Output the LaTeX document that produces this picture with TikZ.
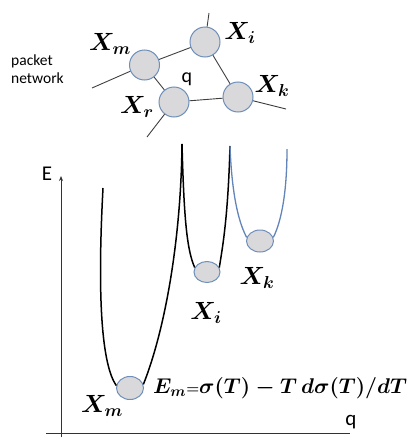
\documentclass[tikz,border=0pt]{standalone}
\usepackage{fontspec}
\newfontfamily\labelfont{Carlito}
\usetikzlibrary{arrows.meta,shapes.geometric}
\definecolor{ballfill}{HTML}{D9D9DB}
\definecolor{balledge}{HTML}{6F8FBA}
\definecolor{wellblue}{HTML}{6384B8}
\tikzset{
  ball/.style={circle, draw=balledge, fill=ballfill, line width=1pt, minimum size=30pt, inner sep=0pt},
  ovalball/.style={ellipse, draw=balledge, fill=ballfill, line width=1pt, inner sep=0pt},
  link/.style={draw=black!75, line width=0.9pt},
  well/.style={draw=black, line width=1.5pt},
  bluewell/.style={draw=wellblue, line width=1.3pt},
  axis/.style={draw=black!80, line width=0.9pt},
  xlab/.style={font=\fontsize{25}{28}\selectfont\boldmath, inner sep=0pt},
  sflab/.style={font=\labelfont\fontsize{21}{24}\selectfont, inner sep=0pt},
}
\begin{document}
\begin{tikzpicture}[x=1pt,y=-1pt]
\useasboundingbox (0,0) rectangle (411,442);
% network
\node[ball] (nm) at (144.5,65) {};
\node[ball] (ni) at (205,42) {};
\node[ball] (nr) at (174,102) {};
\node[ball] (nk) at (238,97) {};
\coordinate (ml) at (92,88);
\coordinate (iu) at (209,13);
\coordinate (rd) at (147,137);
\coordinate (kr) at (286,109);
\draw[link] (ml) -- (nm);
\draw[link] (nm) -- (ni);
\draw[link] (nm) -- (nr);
\draw[link] (iu) -- (ni);
\draw[link] (ni) -- (nk);
\draw[link] (nr) -- (nk);
\draw[link] (nr) -- (rd);
\draw[link] (nk) -- (kr);
\node[xlab] (lm) at (110,44) {$X_m$};
\node[xlab] (li) at (240,33) {$X_i$};
\node[xlab] (lk) at (272,86) {$X_k$};
\node[xlab] (lr) at (137,107) {$X_r$};
\node[font=\labelfont\fontsize{20}{22}\selectfont, inner sep=0pt] (lq) at (187,79) {q};
\node[font=\labelfont\fontsize{15.5}{18}\selectfont, align=left, anchor=west, inner sep=0pt] (pn) at (11,69) {packet\\network};
% axes
\coordinate (o1) at (61,437);
\coordinate (etop) at (61,176);
\coordinate (h0) at (46,433);
\coordinate (h1) at (350,433);
\draw[axis, -{Stealth[length=5pt,width=4pt]}] (o1) -- (etop);
\draw[axis] (h0) -- (h1);
\node[sflab] (le) at (47,174) {E};
\node[sflab] (lqa) at (351,422) {q};
% wells
\node[ovalball, minimum width=27pt, minimum height=23pt] (wm) at (130,388) {};
\node[ovalball, minimum width=26pt, minimum height=21pt] (wi) at (207,272) {};
\node[ovalball, minimum width=27pt, minimum height=22pt] (wk) at (260,241) {};
\coordinate (mtop) at (103,188);
\coordinate (p1) at (182,144);
\coordinate (p2) at (230,146);
\coordinate (ktop) at (287,149);
\draw[well] (mtop) .. controls (97,300) and (102,365) .. (wm.170);
\draw[well] (wm.15) .. controls (165,330) and (181,240) .. (p1);
\draw[well] (p1) .. controls (184,220) and (187,250) .. (wi.160);
\draw[well] (wi.20) .. controls (222,250) and (228,220) .. (p2);
\draw[bluewell] (p2) .. controls (232,200) and (240,225) .. (wk.165);
\draw[bluewell] (wk.15) .. controls (282,220) and (287,190) .. (ktop);
\node[xlab] (lwi) at (206,313) {$X_i$};
\node[xlab] (lwk) at (257,278) {$X_k$};
\node[xlab] (lwm) at (102,406) {$X_m$};
\node[font=\fontsize{22}{26}\selectfont\boldmath, anchor=west, inner sep=0pt] (em) at (153,388) {\resizebox{254pt}{!}{$E_m{\scriptstyle =}\sigma(T)-T\,d\sigma(T)/dT$}};
\end{tikzpicture}
\end{document}
